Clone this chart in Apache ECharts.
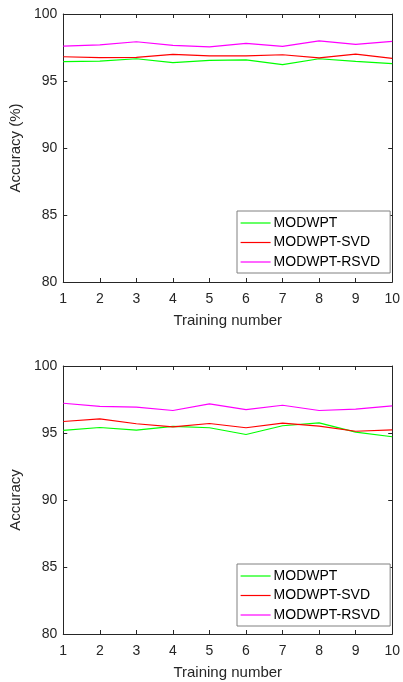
<!DOCTYPE html>
<html>
<head>
<meta charset="utf-8">
<script src="https://cdn.jsdelivr.net/npm/echarts@6/dist/echarts.min.js"></script>
<style>html,body{margin:0;padding:0;background:#fff}#c{width:403px;height:682px}</style>
</head>
<body>
<div id="c"></div>
<script>
const trainingNumbers = [1, 2, 3, 4, 5, 6, 7, 8, 9, 10];
const seriesNames = ['MODWPT', 'MODWPT-SVD', 'MODWPT-RSVD'];
// Top chart: Accuracy (%)
const topMODWPT = [96.44, 96.49, 96.66, 96.37, 96.54, 96.57, 96.22, 96.66, 96.47, 96.29];
const topSVD    = [96.81, 96.74, 96.77, 96.99, 96.87, 96.87, 96.96, 96.72, 97.01, 96.69];
const topRSVD   = [97.61, 97.69, 97.93, 97.66, 97.54, 97.81, 97.59, 97.99, 97.74, 97.96];
// Bottom chart: Accuracy
const botMODWPT = [95.19, 95.41, 95.21, 95.49, 95.39, 94.89, 95.54, 95.76, 95.06, 94.72];
const botSVD    = [95.86, 96.06, 95.69, 95.46, 95.71, 95.39, 95.73, 95.51, 95.13, 95.24];
const botRSVD   = [97.22, 96.98, 96.93, 96.68, 97.18, 96.75, 97.07, 96.68, 96.78, 97.03];
const yTicks = [80, 85, 90, 95, 100];
const colors = ['#00FF00', '#FF0000', '#FF00FF'];

const FONT = 'Liberation Sans, Arial, sans-serif';
const TXT = '#262626';
const chart = echarts.init(document.getElementById('c'));

function xAx(grid, bottom) {
  return {
    type: 'value', gridIndex: grid, min: 1, max: 10, interval: 1,
    position: bottom ? 'bottom' : 'top',
    name: bottom ? 'Training number' : '', nameLocation: 'middle', nameGap: 31,
    nameTextStyle: {fontFamily: FONT, fontSize: 15, color: TXT},
    axisLine: {show: true, onZero: false, lineStyle: {color: TXT, width: 1}},
    axisTick: {show: true, inside: true, length: 4, lineStyle: {color: TXT}},
    axisLabel: {show: bottom, margin: 10, fontFamily: FONT, fontSize: 14, color: TXT},
    splitLine: {show: false}
  };
}
function yAx(grid, left, name) {
  return {
    type: 'value', gridIndex: grid, min: yTicks[0], max: yTicks[yTicks.length-1], interval: 5,
    position: left ? 'left' : 'right',
    name: left ? name : '', nameLocation: 'middle', nameGap: 31,
    nameTextStyle: {fontFamily: FONT, fontSize: 15, color: TXT},
    axisLine: {show: true, onZero: false, lineStyle: {color: TXT, width: 1}},
    axisTick: {show: true, inside: true, length: 4, lineStyle: {color: TXT}},
    axisLabel: {show: left, margin: 6, fontFamily: FONT, fontSize: 14, color: TXT},
    splitLine: {show: false}
  };
}
function mk(name, vals, grid, ci) {
  return {
    name: name, type: 'line', xAxisIndex: grid * 2, yAxisIndex: grid * 2,
    data: trainingNumbers.map((x, i) => [x, vals[i]]),
    symbol: 'none', lineStyle: {width: 1.2, color: colors[ci]}, itemStyle: {color: colors[ci]},
    emphasis: {disabled: true}, animation: false
  };
}
function lg(top) {
  return {
    left: 237, top: top, orient: 'vertical', width: 149,
    padding: [5, 10, 4, 3], itemGap: 5.5, itemWidth: 30, itemHeight: 14,
    backgroundColor: '#fff', borderColor: '#808080', borderWidth: 1,
    itemStyle: {opacity: 0},
    lineStyle: {width: 1.2},
    textStyle: {fontFamily: FONT, fontSize: 14, color: '#000', padding: [0, 0, 0, -2]},
    data: seriesNames, selectedMode: false
  };
}
chart.setOption({
  animation: false,
  grid: [
    {left: 56, right: 8, top: 14, height: 268},
    {left: 56, right: 8, top: 366, height: 268}
  ],
  xAxis: [xAx(0, true), xAx(0, false), xAx(1, true), xAx(1, false)],
  yAxis: [yAx(0, true, 'Accuracy (%)'), yAx(0, false), yAx(1, true, 'Accuracy'), yAx(1, false)],
  legend: [lg(211), lg(564)],
  series: [
    mk(seriesNames[0], topMODWPT, 0, 0), mk(seriesNames[1], topSVD, 0, 1), mk(seriesNames[2], topRSVD, 0, 2),
    mk(seriesNames[0], botMODWPT, 1, 0), mk(seriesNames[1], botSVD, 1, 1), mk(seriesNames[2], botRSVD, 1, 2)
  ]
});
</script>
</body>
</html>
